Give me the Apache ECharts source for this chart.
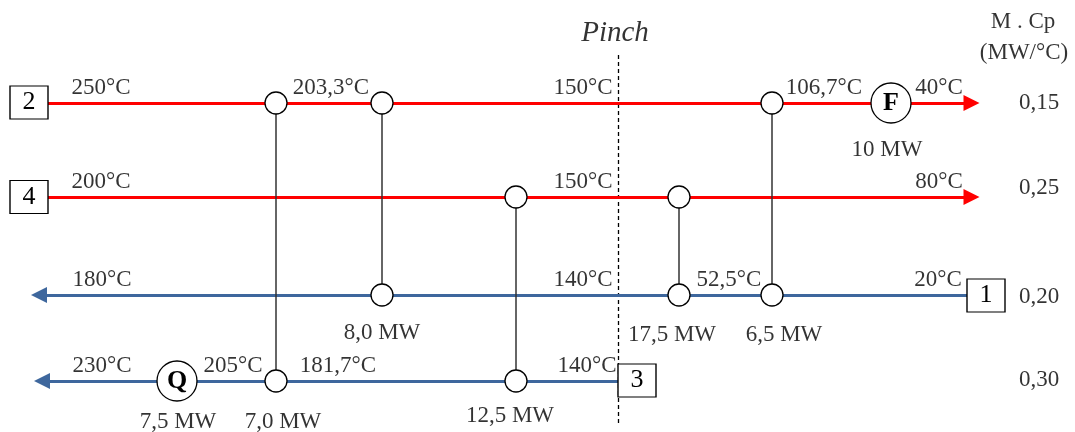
<!DOCTYPE html>
<html><head><meta charset="utf-8">
<script src="https://cdn.jsdelivr.net/npm/echarts@6/dist/echarts.min.js"></script>
<style>html,body{margin:0;padding:0;background:#fff}#c{width:1075px;height:432px}</style>
</head><body><div id="c"></div>
<script>
// ---------------- data ----------------
const streamIds   = ['2', '4', '1', '3'];
const streamKinds = ['hot', 'hot', 'cold', 'cold'];
const mcpValues   = ['0,15', '0,25', '0,20', '0,30'];
const headerLabels = ['M . Cp', '(MW/°C)'];
const pinchLabel = 'Pinch';
// temperature labels along each stream, left to right
const tempsStream2 = ['250°C', '203,3°C', '150°C', '106,7°C', '40°C'];
const tempsStream4 = ['200°C', '150°C', '80°C'];
const tempsStream1 = ['180°C', '140°C', '52,5°C', '20°C'];
const tempsStream3 = ['230°C', '205°C', '181,7°C', '140°C'];
// process exchangers
const exchHot  = ['2', '2', '4', '4', '2'];
const exchCold = ['3', '1', '3', '1', '1'];
const exchDuty = ['7,0 MW', '8,0 MW', '12,5 MW', '17,5 MW', '6,5 MW'];
// utilities
const utilityNames  = ['Q', 'F'];
const utilityStream = ['3', '2'];
const utilityDuty   = ['7,5 MW', '10 MW'];

// ---------------- layout ----------------
const rowY = {'2': 103, '4': 197, '1': 295, '3': 381};
const boxCenter = {'2': [29, 102.5], '4': [29, 197], '1': [986, 295.5], '3': [637, 380.5]};
const lineStart = {'2': 48, '4': 48, '1': 967, '3': 618};
const lineEnd   = {'2': 971.5, '4': 971.5, '1': 39, '3': 42};
const tempX = {'2': [101, 331, 583, 824, 939], '4': [101, 583, 939], '1': [102, 583, 729, 938], '3': [102, 233, 338, 587]};
const tempDy = -15;
const exchX = [276, 382, 516, 679, 772];
const exchDutyPos = [[283, 422], [382, 333], [510, 416], [672, 335], [784, 335]];
const utilX = [177, 891];
const utilDutyPos = [[178, 422], [887, 150]];
const mcpX = 1039;
const mcpY = [103, 188, 297, 380];
const headerPos = [[1023, 22], [1024, 53]];
const pinchX = 618, pinchTop = 55, pinchBottom = 425, pinchTextPos = [615, 33];

const RED = '#ff0000', BLUE = '#3e679d', FONT = 'Liberation Serif';
const temps = {'2': tempsStream2, '4': tempsStream4, '1': tempsStream1, '3': tempsStream3};

// stream lines
const hotLines = [], coldLines = [];
streamIds.forEach((id, i) => {
  const seg = {coords: [[lineStart[id], rowY[id]], [lineEnd[id], rowY[id]]]};
  (streamKinds[i] === 'hot' ? hotLines : coldLines).push(seg);
});
// exchanger connections and circles
const connLines = [], circles = [];
exchHot.forEach((h, i) => {
  const c = exchCold[i];
  connLines.push({coords: [[exchX[i], rowY[h]], [exchX[i], rowY[c]]]});
  circles.push([exchX[i], rowY[h]], [exchX[i], rowY[c]]);
});
const utilData = utilityNames.map((n, i) => ({name: n, value: [utilX[i], rowY[utilityStream[i]]]}));
const boxData = streamIds.map(id => ({name: id, value: boxCenter[id]}));

// texts
const texts = [];
streamIds.forEach(id => {
  temps[id].forEach((t, j) => texts.push({name: t, value: [tempX[id][j], rowY[id] + tempDy]}));
});
exchDuty.forEach((d, i) => texts.push({name: d, value: exchDutyPos[i]}));
utilityDuty.forEach((d, i) => texts.push({name: d, value: utilDutyPos[i]}));
mcpValues.forEach((m, i) => texts.push({name: m, value: [mcpX, mcpY[i]]}));
headerLabels.forEach((h, i) => texts.push({name: h, value: headerPos[i]}));
texts.push({name: pinchLabel, value: pinchTextPos, label: {fontStyle: 'italic', fontSize: 29}});

const chart = echarts.init(document.getElementById('c'), null, {renderer: 'canvas'});
chart.setOption({
  animation: false,
  backgroundColor: '#fff',
  grid: {left: 0, right: 0, top: 0, bottom: 0},
  xAxis: {type: 'value', min: 0, max: 1075, show: false},
  yAxis: {type: 'value', min: 0, max: 432, inverse: true, show: false},
  series: [
    {type: 'lines', coordinateSystem: 'cartesian2d', z: 2,
     lineStyle: {color: '#000', width: 1.3, type: [4, 3], opacity: 1},
     data: [{coords: [[pinchX, pinchTop], [pinchX, pinchBottom]]}]},
    {type: 'lines', coordinateSystem: 'cartesian2d', z: 3,
     symbol: ['none', 'triangle'], symbolSize: [15, 16],
     lineStyle: {color: RED, width: 3, opacity: 1}, data: hotLines},
    {type: 'lines', coordinateSystem: 'cartesian2d', z: 3,
     symbol: ['none', 'triangle'], symbolSize: [15, 16],
     lineStyle: {color: BLUE, width: 3, opacity: 1}, data: coldLines},
    {type: 'lines', coordinateSystem: 'cartesian2d', z: 4,
     lineStyle: {color: '#333', width: 1.5, opacity: 1}, data: connLines},
    {type: 'scatter', z: 5, symbol: 'circle', symbolSize: 22, silent: true,
     itemStyle: {color: '#fff', borderColor: '#000', borderWidth: 1.3, opacity: 1}, data: circles},
    {type: 'scatter', z: 5, symbol: 'circle', symbolSize: 40, silent: true,
     itemStyle: {color: '#fff', borderColor: '#000', borderWidth: 1.3, opacity: 1},
     label: {show: true, position: 'inside', formatter: '{b}', color: '#000', fontFamily: FONT, fontWeight: 'bold', fontSize: 26},
     data: utilData},
    {type: 'scatter', z: 5, symbol: 'rect', symbolSize: [38, 33], silent: true,
     itemStyle: {color: '#fff', borderColor: '#000', borderWidth: 1.3, opacity: 1},
     label: {show: true, position: 'inside', formatter: '{b}', color: '#000', fontFamily: FONT, fontSize: 26},
     data: boxData},
    {type: 'scatter', z: 6, symbolSize: 1, silent: true,
     itemStyle: {color: 'rgba(0,0,0,0)'},
     label: {show: true, position: 'inside', formatter: '{b}', color: '#000', fontFamily: FONT, fontSize: 23},
     data: texts}
  ]
});
</script></body></html>
